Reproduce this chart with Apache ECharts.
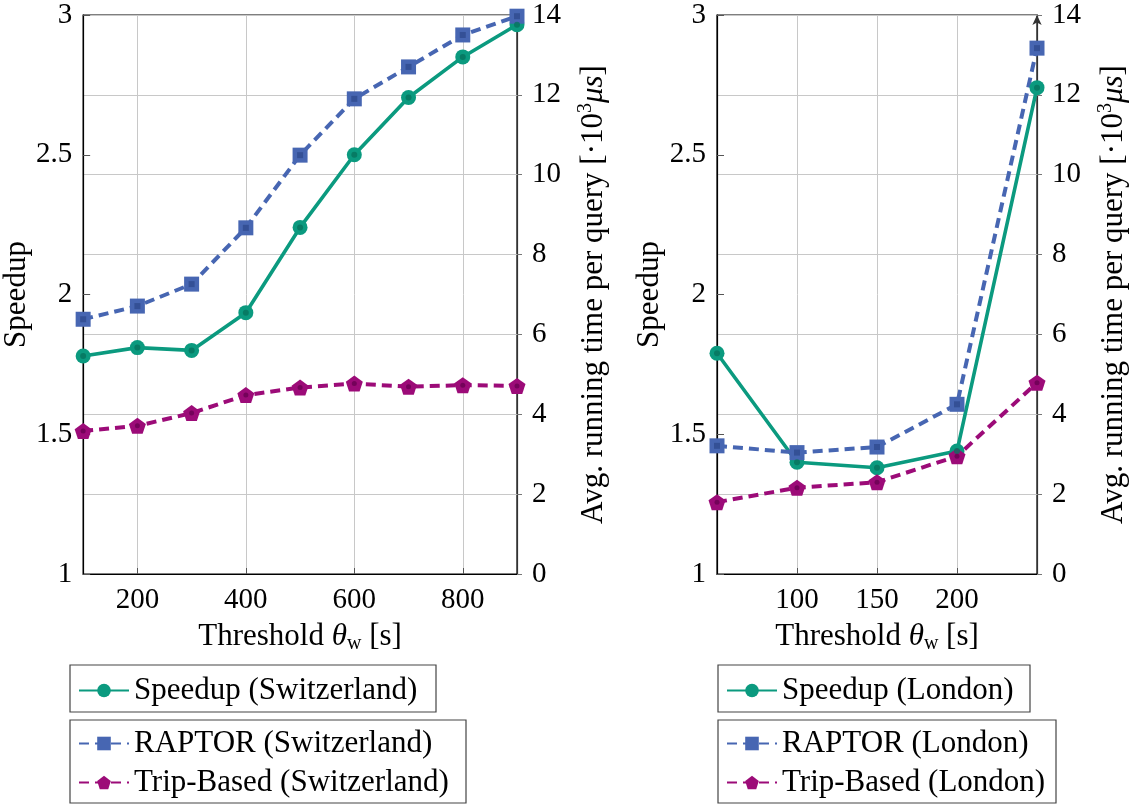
<!DOCTYPE html>
<html>
<head>
<meta charset="utf-8">
<script src="https://cdn.jsdelivr.net/npm/echarts@6/dist/echarts.min.js"></script>
<style>
  html, body { margin: 0; padding: 0; background: #ffffff; }
  #chart { width: 1133px; height: 806px; }
</style>
</head>
<body>
<div id="chart"></div>
<script>
// Switzerland: threshold sweep 100..900 s
const swissThresholds = [100, 200, 300, 400, 500, 600, 700, 800, 900];
const swissSpeedup    = [1.78, 1.81, 1.80, 1.935, 2.24, 2.50, 2.705, 2.85, 2.965];
const swissRaptor     = [6.38, 6.71, 7.26, 8.67, 10.49, 11.90, 12.70, 13.50, 13.97];
const swissTripBased  = [3.58, 3.71, 4.03, 4.48, 4.67, 4.77, 4.69, 4.73, 4.71];

// London: threshold sweep 50..250 s
const londonThresholds = [50, 100, 150, 200, 250];
const londonSpeedup    = [1.79, 1.40, 1.38, 1.44, 2.74];
const londonRaptor     = [3.21, 3.04, 3.18, 4.25, 13.17];
const londonTripBased  = [1.80, 2.16, 2.30, 2.95, 4.79];

// Axis ticks
const swissXTicks  = [200, 400, 600, 800];
const londonXTicks = [100, 150, 200];
const speedupTicks = { min: 1, max: 3, interval: 0.5 };
const timeTicks    = { min: 0, max: 14, interval: 2 };

const FONT = 'Liberation Serif';
const FS_TICK = 29;
const FS = 31;
const TEAL = '#0b9a7f', TEAL_DARK = '#06735e';
const BLUE = '#4766b2', BLUE_DARK = '#2f4b8f';
const MAGENTA = '#9c0b78', MAGENTA_DARK = '#6a0052';
const PENTAGON = 'path://M0,-1 L0.951,-0.309 L0.588,0.809 L-0.588,0.809 L-0.951,-0.309 Z';

const pairs = (xs, ys) => xs.map((x, i) => [x, ys[i]]);

function xAxis(gridIndex, min, max, ticks) {
  return {
    type: 'value', gridIndex, min, max,
    name: 'Threshold {it|θ}{sub|w} [s]',
    nameLocation: 'middle', nameGap: 45,
    nameTextStyle: {
      fontFamily: FONT, fontSize: FS, color: '#000',
      rich: {
        it: { fontFamily: FONT, fontSize: FS, fontStyle: 'italic', color: '#000' },
        sub: { fontFamily: FONT, fontSize: 20, color: '#000', padding: [15, 0, 0, 0] }
      }
    },
    axisLine: { show: true, onZero: false, lineStyle: { color: '#000', width: 1.2 } },
    axisTick: { show: true, inside: true, length: 6, customValues: ticks, lineStyle: { color: '#555' } },
    axisLabel: { customValues: ticks, fontFamily: FONT, fontSize: FS_TICK, color: '#000', margin: 12 },
    splitLine: { show: true, lineStyle: { color: '#c8c8c8', width: 1 } }
  };
}

function speedupAxis(gridIndex) {
  return {
    type: 'value', gridIndex, position: 'left',
    min: speedupTicks.min, max: speedupTicks.max, interval: speedupTicks.interval,
    name: 'Speedup', nameLocation: 'middle', nameGap: 34,
    nameTextStyle: { fontFamily: FONT, fontSize: FS, color: '#000' },
    axisLine: { show: true, lineStyle: { color: '#000', width: 1.2 } },
    axisTick: { show: true, inside: true, length: 7, lineStyle: { color: '#555' } },
    axisLabel: { fontFamily: FONT, fontSize: FS_TICK, color: '#000', margin: 11 },
    splitLine: { show: false }
  };
}

function timeAxis(gridIndex) {
  return {
    type: 'value', gridIndex, position: 'right',
    min: timeTicks.min, max: timeTicks.max, interval: timeTicks.interval,
    name: 'Avg. running time per query [·10{sup|3}{it|μs}]',
    nameLocation: 'middle', nameGap: 59,
    nameTextStyle: {
      fontFamily: FONT, fontSize: FS, color: '#000',
      rich: {
        sup: { fontFamily: FONT, fontSize: 20, color: '#000', padding: [0, 0, 15, 0] },
        it: { fontFamily: FONT, fontSize: FS, fontStyle: 'italic', color: '#000' }
      }
    },
    axisLine: { show: true, symbol: ['none', 'arrow'], symbolSize: [7, 10], lineStyle: { color: '#333', width: 1.2 } },
    axisTick: { show: true, inside: false, length: 5, lineStyle: { color: '#777' } },
    axisLabel: { fontFamily: FONT, fontSize: FS_TICK, color: '#000', margin: 15 },
    splitLine: { show: true, lineStyle: { color: '#c8c8c8', width: 1 } }
  };
}

function lineSeries(name, xi, yi, data, color, symbol, size, dashed) {
  return {
    name, type: 'line', xAxisIndex: xi, yAxisIndex: yi, data,
    symbol, symbolSize: size, showAllSymbol: true,
    itemStyle: { color },
    lineStyle: { color, width: dashed ? 4 : 3.6, type: dashed ? [10, 6] : 'solid' },
    emphasis: { disabled: true }, animation: false, z: 3
  };
}

function centerDots(xi, yi, data, color, symbol, size) {
  return {
    type: 'scatter', xAxisIndex: xi, yAxisIndex: yi, data,
    symbol, symbolSize: size, itemStyle: { color },
    silent: true, animation: false, z: 4
  };
}

function legend(names, left, top, vertical) {
  return {
    data: names, left, top, orient: vertical ? 'vertical' : 'horizontal',
    itemWidth: 50, itemHeight: 17, itemGap: 8, padding: 0,
    textStyle: { fontFamily: FONT, fontSize: FS, color: '#000' },
    selectedMode: false
  };
}

const chart = echarts.init(document.getElementById('chart'), null, { renderer: 'canvas' });

chart.setOption({
  backgroundColor: '#ffffff',
  animation: false,
  grid: [
    { left: 69, top: 15, width: 448, height: 559, show: true, borderColor: '#000', borderWidth: 1.2, backgroundColor: 'transparent' },
    { left: 717, top: 15, width: 320, height: 559, show: true, borderColor: '#000', borderWidth: 1.2, backgroundColor: 'transparent' }
  ],
  xAxis: [
    xAxis(0, 100, 900, swissXTicks),
    xAxis(1, 50, 250, londonXTicks)
  ],
  yAxis: [
    speedupAxis(0), timeAxis(0),
    speedupAxis(1), timeAxis(1)
  ],
  legend: [
    legend(['Speedup (Switzerland)'], 78, 675, false),
    legend(['RAPTOR (Switzerland)', 'Trip-Based (Switzerland)'], 78, 728, true),
    legend(['Speedup (London)'], 726, 675, false),
    legend(['RAPTOR (London)', 'Trip-Based (London)'], 726, 728, true)
  ],
  graphic: [
    { type: 'rect', shape: { x: 70, y: 665, width: 366, height: 47 }, style: { fill: 'none', stroke: '#444', lineWidth: 1.2 }, silent: true },
    { type: 'rect', shape: { x: 70, y: 720, width: 396, height: 83 }, style: { fill: 'none', stroke: '#444', lineWidth: 1.2 }, silent: true },
    { type: 'rect', shape: { x: 718, y: 665, width: 312, height: 47 }, style: { fill: 'none', stroke: '#444', lineWidth: 1.2 }, silent: true },
    { type: 'rect', shape: { x: 718, y: 720, width: 338, height: 83 }, style: { fill: 'none', stroke: '#444', lineWidth: 1.2 }, silent: true }
  ],
  series: [
    lineSeries('Speedup (Switzerland)', 0, 0, pairs(swissThresholds, swissSpeedup), TEAL, 'circle', 15, false),
    lineSeries('RAPTOR (Switzerland)', 0, 1, pairs(swissThresholds, swissRaptor), BLUE, 'rect', 15, true),
    lineSeries('Trip-Based (Switzerland)', 0, 1, pairs(swissThresholds, swissTripBased), MAGENTA, PENTAGON, [17, 16], true),
    centerDots(0, 0, pairs(swissThresholds, swissSpeedup), TEAL_DARK, 'circle', 6),
    centerDots(0, 1, pairs(swissThresholds, swissRaptor), BLUE_DARK, 'rect', 6),
    centerDots(0, 1, pairs(swissThresholds, swissTripBased), MAGENTA_DARK, 'circle', 5),

    lineSeries('Speedup (London)', 1, 2, pairs(londonThresholds, londonSpeedup), TEAL, 'circle', 15, false),
    lineSeries('RAPTOR (London)', 1, 3, pairs(londonThresholds, londonRaptor), BLUE, 'rect', 15, true),
    lineSeries('Trip-Based (London)', 1, 3, pairs(londonThresholds, londonTripBased), MAGENTA, PENTAGON, [17, 16], true),
    centerDots(1, 2, pairs(londonThresholds, londonSpeedup), TEAL_DARK, 'circle', 6),
    centerDots(1, 3, pairs(londonThresholds, londonRaptor), BLUE_DARK, 'rect', 6),
    centerDots(1, 3, pairs(londonThresholds, londonTripBased), MAGENTA_DARK, 'circle', 5)
  ]
});
</script>
</body>
</html>
